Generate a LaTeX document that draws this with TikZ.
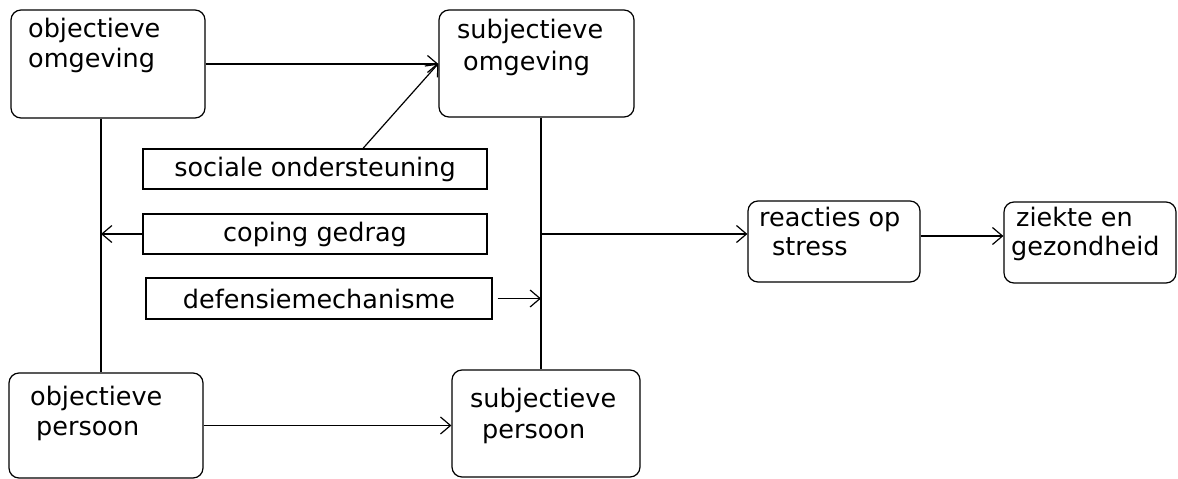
\documentclass[tikz,border=0pt]{standalone}
\usepackage{fontspec}
\setmainfont{DejaVu Sans}
\usetikzlibrary{arrows.meta}
\begin{document}
\begin{tikzpicture}[x=1pt,y=-1pt,
  rbox/.style={draw, line width=1.2pt, rounded corners=10pt, inner sep=0pt},
  sbox/.style={draw, line width=1.2pt, inner sep=0pt, font=\fontsize{25.5}{30}\selectfont},
  lbl/.style={anchor=base west, inner sep=0pt, font=\fontsize{25.5}{30}\selectfont},
  conn/.style={line width=1.2pt},
  arr/.style={line width=1.2pt, -{Straight Barb[length=10pt,width=17pt,line width=1.2pt]}}]
\fill[white] (0,0) rectangle (1178,479);
\useasboundingbox (0,0) rectangle (1178,479);

% rounded boxes
\node[rbox, minimum width=194pt, minimum height=108pt] (objOm) at (108,64) {};
\node[rbox, minimum width=195pt, minimum height=107pt] (subjOm) at (536.5,63.5) {};
\node[rbox, minimum width=194pt, minimum height=105pt] (objPer) at (106,425.5) {};
\node[rbox, minimum width=188pt, minimum height=107pt] (subjPer) at (546,423.5) {};
\node[rbox, minimum width=172pt, minimum height=81pt] (reac) at (834,241.5) {};
\node[rbox, minimum width=172pt, minimum height=81pt] (zie) at (1090,242.5) {};

% texts in rounded boxes
\node[lbl] (t1a) at (28,37) {objectieve};
\node[lbl] (t1b) at (28,67) {omgeving};
\node[lbl] (t2a) at (457,38) {subjectieve};
\node[lbl] (t2b) at (463,70) {omgeving};
\node[lbl] (t3a) at (30,405) {objectieve};
\node[lbl] (t3b) at (36,435) {persoon};
\node[lbl] (t4a) at (470,407) {subjectieve};
\node[lbl] (t4b) at (482,438) {persoon};
\node[lbl] (t5a) at (759,226) {reacties op};
\node[lbl] (t5b) at (772,255) {stress};
\node[lbl] (t6a) at (1016,226) {ziekte en};
\node[lbl] (t6b) at (1011,255) {gezondheid};

% rectangular boxes
\node[sbox, minimum width=344pt, minimum height=40pt] (soc) at (315,169) {sociale ondersteuning};
\node[sbox, minimum width=344pt, minimum height=40pt] (cop) at (315,234) {coping gedrag};
\node[sbox, minimum width=346pt, minimum height=41pt] (def) at (319,298.5) {defensiemechanisme};

% helper coordinates
\coordinate (L) at (101,0);
\coordinate (R) at (541,0);
\coordinate (J) at (541,234);
\coordinate (K) at (920,236);

% connectors
\draw[arr] (objOm.east) -- (objOm.east -| subjOm.west);
\draw[arr] ([xshift=48pt]soc.north) -- (subjOm.west);
\draw[conn] (objOm.south -| L) -- (objPer.north -| L);
\draw[arr] (cop.west) -- (cop.west -| L);
\draw[conn] (subjOm.south -| R) -- (subjPer.north -| R);
\draw[arr] ([xshift=5pt]def.east) -- (def.east -| R);
\draw[arr] (J) -- (J -| reac.west);
\draw[arr] (reac.east |- K) -- (zie.west |- K);
\draw[arr] (objPer.east) -- (objPer.east -| subjPer.west);
\end{tikzpicture}
\end{document}
